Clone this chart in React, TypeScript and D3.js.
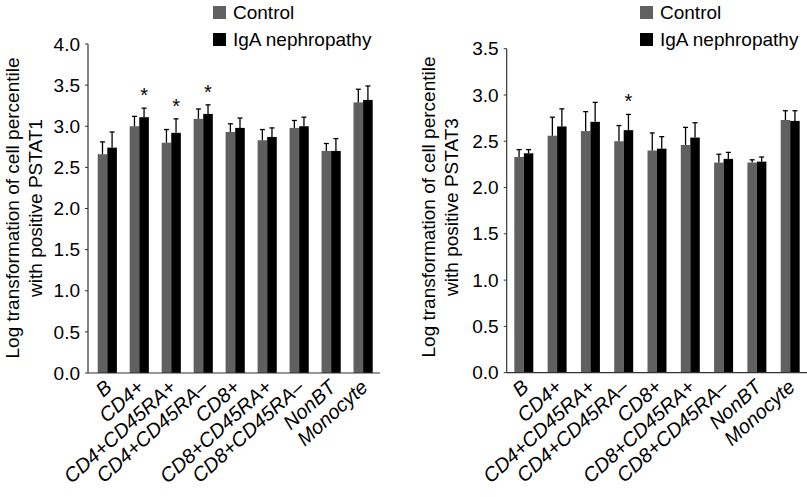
import React from "react";
import * as d3 from "d3";

const categories = ["B", "CD4+", "CD4+CD45RA+", "CD4+CD45RA–", "CD8+", "CD8+CD45RA+", "CD8+CD45RA–", "NonBT", "Monocyte"];
const seriesNames = ["Control", "IgA nephropathy"];

const pstat1Control = [2.66, 3.0, 2.8, 3.09, 2.93, 2.83, 2.98, 2.7, 3.29];
const pstat1ControlErr = [0.15, 0.12, 0.16, 0.12, 0.1, 0.13, 0.09, 0.09, 0.16];
const pstat1IgA = [2.74, 3.11, 2.92, 3.15, 2.98, 2.87, 3.0, 2.7, 3.32];
const pstat1IgAErr = [0.19, 0.11, 0.17, 0.11, 0.12, 0.11, 0.11, 0.15, 0.17];
const pstat1Sig = [false, true, true, true, false, false, false, false, false];
const pstat1Ticks = [0, 0.5, 1, 1.5, 2, 2.5, 3, 3.5, 4];

const pstat3Control = [2.33, 2.56, 2.61, 2.5, 2.4, 2.46, 2.27, 2.27, 2.73];
const pstat3ControlErr = [0.08, 0.2, 0.21, 0.17, 0.19, 0.19, 0.09, 0.03, 0.1];
const pstat3IgA = [2.37, 2.66, 2.71, 2.62, 2.42, 2.54, 2.31, 2.28, 2.72];
const pstat3IgAErr = [0.04, 0.19, 0.21, 0.17, 0.13, 0.16, 0.07, 0.05, 0.11];
const pstat3Sig = [false, false, false, true, false, false, false, false, false];
const pstat3Ticks = [0, 0.5, 1, 1.5, 2, 2.5, 3, 3.5];

const COLORS = ["#606060", "#000000"];
const FONT = "'Liberation Sans', Arial, Helvetica, sans-serif";
const FS = 19;
const LABEL_FS = 20;

type PanelProps = {
  control: number[];
  controlErr: number[];
  iga: number[];
  igaErr: number[];
  sig: boolean[];
  ticks: number[];
  yMax: number;
  axisX: number;
  axisEnd: number;
  yTop: number;
  y0: number;
  bandRange: [number, number];
  paddingInner: number;
  paddingOuter: number;
  titleLine2: string;
  titleX1: number;
  titleX2: number;
  titleCy: number;
  legendX: number;
};

function Panel(p: PanelProps) {
  const x = d3.scaleBand<string>().domain(categories).range(p.bandRange).paddingInner(p.paddingInner).paddingOuter(p.paddingOuter);
  const xs = d3.scaleBand<string>().domain(seriesNames).range([0, x.bandwidth()]).padding(0);
  const y = d3.scaleLinear().domain([0, p.yMax]).range([p.y0, p.yTop]);
  const vals = [p.control, p.iga];
  const errs = [p.controlErr, p.igaErr];
  const cap = 2.5;
  return (
    <g>
      {categories.map((c, i) => (
        <g key={c}>
          {seriesNames.map((s, si) => {
            const v = vals[si][i];
            const bx = (x(c) ?? 0) + (xs(s) ?? 0);
            const bw = xs.bandwidth();
            const cx = bx + bw / 2;
            const et = y(v + errs[si][i]);
            return (
              <g key={s}>
                <rect x={bx} y={y(v)} width={bw} height={y(0) - y(v)} fill={COLORS[si]} />
                <line x1={cx} x2={cx} y1={y(v)} y2={et} stroke="#000" strokeWidth={1.3} />
                <line x1={cx - cap} x2={cx + cap} y1={et} y2={et} stroke="#000" strokeWidth={1.3} />
                {si === 1 && p.sig[i] ? (
                  <text x={cx} y={et - 6} textAnchor="middle" fontSize={20} fontFamily={FONT}>*</text>
                ) : null}
              </g>
            );
          })}
          <text
            transform={`translate(${(x(c) ?? 0) + x.bandwidth() / 2 + 6},${p.y0 + 16}) rotate(-42)`}
            textAnchor="end"
            fontSize={LABEL_FS}
            fontStyle="italic"
            fontFamily={FONT}
          >
            {c}
          </text>
        </g>
      ))}
      <line x1={p.axisX} x2={p.axisX} y1={p.yTop} y2={p.y0} stroke="#333" strokeWidth={1.2} />
      <line x1={p.axisX} x2={p.axisEnd} y1={p.y0} y2={p.y0} stroke="#333" strokeWidth={1.2} />
      {p.ticks.map((t) => (
        <g key={t}>
          <line x1={p.axisX - 3} x2={p.axisX} y1={y(t)} y2={y(t)} stroke="#333" strokeWidth={1} />
          <text x={p.axisX - 8} y={y(t)} dy="0.35em" textAnchor="end" fontSize={FS} fontFamily={FONT}>
            {t.toFixed(1)}
          </text>
        </g>
      ))}
      <text transform={`translate(${p.titleX1},${p.titleCy}) rotate(-90)`} textAnchor="middle" fontSize={FS} fontFamily={FONT}>
        Log transformation of cell percentile
      </text>
      <text transform={`translate(${p.titleX2},${p.titleCy}) rotate(-90)`} textAnchor="middle" fontSize={FS} fontFamily={FONT}>
        {p.titleLine2}
      </text>
      {seriesNames.map((s, si) => (
        <g key={s}>
          <rect x={p.legendX} y={6 + si * 27} width={13} height={13} fill={COLORS[si]} />
          <text x={p.legendX + 20} y={19 + si * 27} fontSize={FS} fontFamily={FONT}>
            {s}
          </text>
        </g>
      ))}
    </g>
  );
}

export default function App() {
  return (
    <svg width={807} height={497} style={{ position: "absolute", left: 0, top: 0, background: "#fff" }}>
      <rect width={807} height={497} fill="#fff" />
      <Panel
        control={pstat1Control}
        controlErr={pstat1ControlErr}
        iga={pstat1IgA}
        igaErr={pstat1IgAErr}
        sig={pstat1Sig}
        ticks={pstat1Ticks}
        yMax={4}
        axisX={88}
        axisEnd={380}
        yTop={44}
        y0={373}
        bandRange={[91.3, 379.1]}
        paddingInner={0.4}
        paddingOuter={0.2}
        titleLine2="with positive PSTAT1"
        titleX1={18.5}
        titleX2={41.5}
        titleCy={208}
        legendX={213}
      />
      <Panel
        control={pstat3Control}
        controlErr={pstat3ControlErr}
        iga={pstat3IgA}
        igaErr={pstat3IgAErr}
        sig={pstat3Sig}
        ticks={pstat3Ticks}
        yMax={3.5}
        axisX={506.7}
        axisEnd={807}
        yTop={48.7}
        y0={372.7}
        bandRange={[508, 806]}
        paddingInner={0.43}
        paddingOuter={0.19}
        titleLine2="with positive PSTAT3"
        titleX1={435}
        titleX2={458}
        titleCy={207}
        legendX={640}
      />
    </svg>
  );
}
